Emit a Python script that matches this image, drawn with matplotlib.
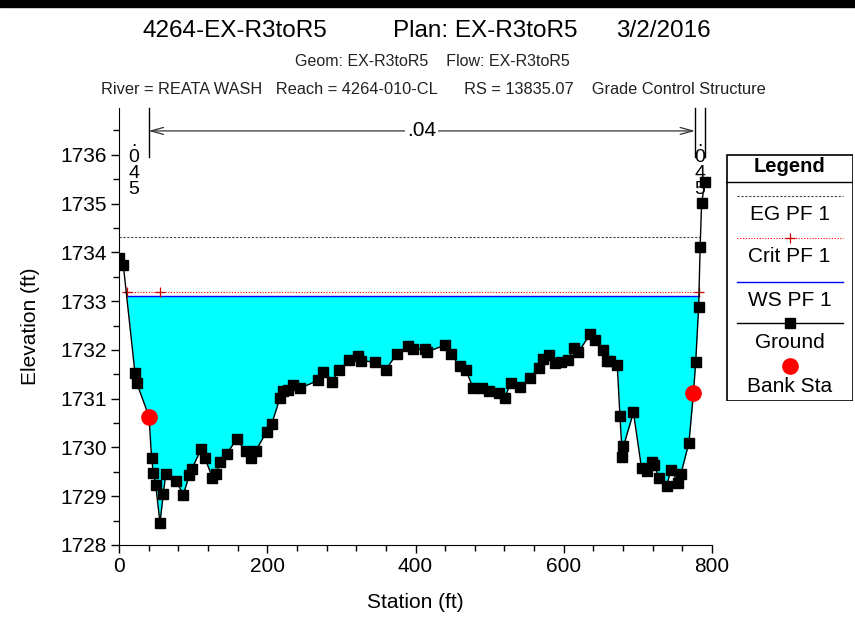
import numpy as np
import matplotlib
matplotlib.use("Agg")
import matplotlib.pyplot as plt
from matplotlib.patches import Rectangle

# ---------------- data ----------------
station = [0.4, 5.8, 21.6, 23.8, 40.5, 44.0, 46.3, 49.5, 55.3, 59.8, 63.0,
           77.0, 86.8, 95.0, 98.0, 110.6, 116.0, 126.0, 131.0, 136.2, 145.3,
           158.8, 170.9, 178.0, 184.4, 199.0, 206.0, 217.0, 221.7, 228.4,
           235.0, 244.0, 269.0, 275.6, 286.9, 297.2, 310.3, 322.9, 326.5,
           345.3, 359.7, 374.4, 390.0, 396.9, 412.8, 416.0, 439.8, 447.9,
           460.0, 468.1, 478.0, 489.3, 499.6, 513.0, 520.7, 528.4, 541.5,
           554.4, 566.0, 572.4, 580.5, 588.2, 596.3, 605.3, 613.8, 619.6,
           635.4, 642.1, 653.3, 658.7, 662.3, 672.2, 675.8, 679.0, 680.5,
           694.0, 705.0, 711.7, 718.5, 721.7, 728.9, 738.8, 744.6, 754.5,
           758.1, 768.9, 775.0, 778.0, 782.0, 784.0, 786.0, 790.5]
elevation = [1733.88, 1733.74, 1731.52, 1731.33, 1730.63, 1729.78, 1729.48,
             1729.22, 1728.46, 1729.05, 1729.45, 1729.31, 1729.03, 1729.44,
             1729.55, 1729.96, 1729.78, 1729.38, 1729.45, 1729.71, 1729.87,
             1730.17, 1729.92, 1729.79, 1729.93, 1730.32, 1730.48, 1731.01,
             1731.15, 1731.18, 1731.28, 1731.21, 1731.38, 1731.55, 1731.34,
             1731.59, 1731.79, 1731.88, 1731.78, 1731.75, 1731.59, 1731.91,
             1732.07, 1732.01, 1732.02, 1731.96, 1732.10, 1731.91, 1731.66,
             1731.58, 1731.21, 1731.21, 1731.16, 1731.11, 1731.02, 1731.33,
             1731.23, 1731.43, 1731.62, 1731.81, 1731.90, 1731.74, 1731.76,
             1731.79, 1732.03, 1731.95, 1732.32, 1732.21, 1731.99, 1731.78,
             1731.77, 1731.69, 1730.65, 1729.80, 1730.02, 1730.72, 1729.57,
             1729.52, 1729.71, 1729.64, 1729.37, 1729.21, 1729.54, 1729.27,
             1729.46, 1730.10, 1731.12, 1731.75, 1732.89, 1734.11, 1735.01,
             1735.45]
bank_station = [40.5, 775.0]
bank_elevation = [1730.63, 1731.12]
ws_elev = 1733.11
crit_elev = 1733.19
eg_elev = 1734.31
crit_mark_station = [10.8, 55.3, 782.3]
n_break_station = [0, 40, 777, 791]
n_values = [".045", ".04", ".045"]
xticks = [0, 200, 400, 600, 800]
yticks = [1728, 1729, 1730, 1731, 1732, 1733, 1734, 1735, 1736]

title_parts = ["4264-EX-R3toR5", "Plan: EX-R3toR5", "3/2/2016"]
sub1 = "Geom: EX-R3toR5    Flow: EX-R3toR5"
sub2 = "River = REATA WASH   Reach = 4264-010-CL      RS = 13835.07    Grade Control Structure"
legend_labels = ["EG PF 1", "Crit PF 1", "WS PF 1", "Ground", "Bank Sta"]

plt.rcParams["font.family"] = ["Liberation Sans", "DejaVu Sans"]

x = np.array(station)
z = np.array(elevation)


def crossings(level):
    below = np.where(z < level)[0]
    i0, i1 = below[0], below[-1]
    xl = np.interp(level, [z[i0], z[i0 - 1]], [x[i0], x[i0 - 1]])
    if i1 + 1 < len(z):
        xr = np.interp(level, [z[i1], z[i1 + 1]], [x[i1], x[i1 + 1]])
    else:
        xr = x[-1]
    return xl, xr


W, H = 855, 622
fig = plt.figure(figsize=(W / 100, H / 100), dpi=100)
fig.patches.append(Rectangle((0, 1 - 7 / H), 1, 7 / H, transform=fig.transFigure,
                             color="black", zorder=10))

ax = fig.add_axes([119 / W, 1 - 545 / H, (712 - 119) / W, (545 - 108) / H])
ax.set_xlim(0, 800)
ax.set_ylim(1728, 1736.96)
for s in ["top", "right"]:
    ax.spines[s].set_visible(False)
ax.set_xticks(xticks)
ax.set_yticks(yticks)
ax.set_xticks(np.arange(0, 801, 40), minor=True)
ax.set_yticks(np.arange(1728, 1736.6, 0.5), minor=True)
ax.tick_params(which="major", direction="out", length=6, width=1, labelsize=15,
               pad=3)
ax.tick_params(which="minor", direction="out", length=4, width=1)
ax.set_xlabel("Station (ft)", fontsize=15, labelpad=12)
ax.set_ylabel("Elevation (ft)", fontsize=15, labelpad=14)

# water fill
ax.fill_between(x, z, ws_elev, where=z <= ws_elev, interpolate=True,
                color="#00FFFF", lw=0, zorder=1)
xl, xr = crossings(ws_elev)
ax.plot([xl, xr], [ws_elev, ws_elev], color="#0000FF", lw=1, zorder=3)
cl, cr = crossings(crit_elev)
ax.plot([cl, cr], [crit_elev, crit_elev], color="#FF0000", lw=0.8,
        ls=(0, (1, 1.5)), zorder=3)
ax.plot(crit_mark_station, [crit_elev] * len(crit_mark_station), ls="none",
        marker="+", color="#CC0000", ms=7, mew=0.9, zorder=4)
el, er = crossings(eg_elev)
ax.plot([0, er], [eg_elev, eg_elev], color="#444444", lw=0.8,
        ls=(0, (2, 1.5)), zorder=3)

# ground
ax.plot(x, z, color="black", lw=1, marker="s", ms=6.5, zorder=5)
ax.plot(bank_station, bank_elevation, ls="none", marker="o", color="#FF0000",
        ms=11, zorder=6)

# manning n annotations
ytop = 1736.96
for b in n_break_station[1:]:
    ax.plot([b, b], [1735.95, ytop], color="black", lw=1, clip_on=False, zorder=4)
ya = 1736.49
ax.annotate("", xy=(n_break_station[2], ya), xytext=(n_break_station[1], ya),
            arrowprops=dict(arrowstyle="<->,head_length=0.9,head_width=0.25",
                            lw=0.9, color="#333333", shrinkA=0, shrinkB=0))
ax.text((n_break_station[1] + n_break_station[2]) / 2, ya, n_values[1],
        ha="center", va="center", fontsize=15,
        bbox=dict(facecolor="white", edgecolor="none", pad=1.5))
for (a, b), lab in [((n_break_station[0], n_break_station[1]), n_values[0]),
                    ((n_break_station[2], n_break_station[3]), n_values[2])]:
    ax.text((a + b) / 2, 1735.78, "\n".join(lab), ha="center", va="center",
            fontsize=14, linespacing=0.92, zorder=7)

# titles
for part, px in zip(title_parts, [235, 485, 663]):
    fig.text(px / W, 1 - 31 / H, part, ha="center", va="center", fontsize=17.5)
fig.text(432 / W, 1 - 61 / H, sub1, ha="center", va="center", fontsize=11.5,
         color="#222222")
fig.text(433 / W, 1 - 90 / H, sub2, ha="center", va="center", fontsize=11.8,
         color="#222222")

# legend box
lax = fig.add_axes([726 / W, 1 - 401 / H, 127 / W, 247 / H])
lax.set_xlim(726, 853)
lax.set_ylim(401, 154)
lax.axis("off")
lax.add_patch(Rectangle((726.5, 154.5), 126, 246, fill=False, lw=1.2,
                        edgecolor="black"))
cx = 789.5
lax.text(cx, 167, "Legend", ha="center", va="center", fontsize=14.5,
         fontweight="bold")
lax.plot([726, 853], [182, 182], color="black", lw=1)
lax.plot([737, 843], [196, 196], color="#444444", lw=0.8, ls=(0, (2, 1.5)))
lax.plot([737, 843], [238, 238], color="#FF0000", lw=0.8, ls=(0, (1, 1.5)))
lax.plot([cx], [238], marker="+", color="#CC0000", ms=7, mew=0.9)
lax.plot([737, 843], [282, 282], color="#0000FF", lw=1)
lax.plot([737, 843], [323, 323], color="black", lw=1)
lax.plot([cx], [323], color="black", marker="s", ms=6.5)
lax.plot([cx], [366], marker="o", color="#FF0000", ms=11)
for lab, yy in zip(legend_labels, [215, 257, 301, 343, 386]):
    lax.text(cx, yy, lab, ha="center", va="center", fontsize=15)

fig.savefig("out.png", dpi=100)
